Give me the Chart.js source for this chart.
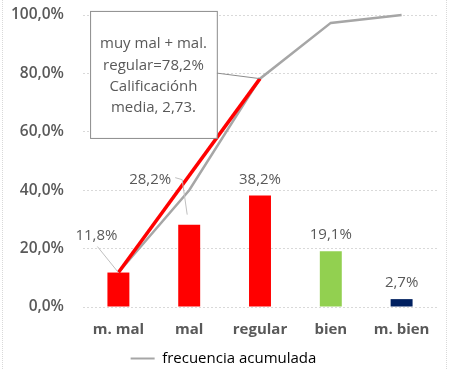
<!DOCTYPE html>
<html lang="es">
<head>
<meta charset="UTF-8">
<script src="https://cdn.jsdelivr.net/npm/chart.js"></script>
<style>
  body { margin: 0; background: #fff; }
  .wrap { position: relative; width: 450px; height: 369px; }
  .wrap::before, .wrap::after {
    content: ''; position: absolute; top: 0; bottom: 0;
    border-left: 1px dotted #d9d9d9;
  }
  .wrap::before { left: 2px; }
  .wrap::after { left: 446px; }
</style>
</head>
<body>
<div class="wrap"><canvas id="chart"></canvas></div>
<script>
const categories = ['m. mal', 'mal', 'regular', 'bien', 'm. bien'];
const porcentajes = [11.8, 28.2, 38.2, 19.1, 2.7];
const acumulada = [11.8, 40.0, 78.2, 97.3, 100.0];
const tramoRojo = [11.8, null, 78.2, null, null];
const barColors = ['#ff0000', '#ff0000', '#ff0000', '#92d050', '#002060'];
const notaLineas = ['muy mal + mal.', 'regular=78,2%', 'Calificaciónh', 'media, 2,73.'];

const FONT = '"Open Sans", sans-serif';
const GRIS = '#595959';
const fmt = v => v.toFixed(1).replace('.', ',') + '%';

// etiquetas de datos + cuadro de nota
const extras = {
  id: 'extras',
  afterDatasetsDraw(chart) {
    const { ctx, scales: { x, y } } = chart;
    ctx.save();
    ctx.font = '15px ' + FONT;
    ctx.fillStyle = GRIS;
    ctx.textAlign = 'center';
    ctx.textBaseline = 'middle';
    ctx.strokeStyle = '#bfbfbf';
    ctx.lineWidth = 1;

    porcentajes.forEach((v, i) => {
      const bx = x.getPixelForValue(i), by = y.getPixelForValue(v);
      let lx = bx, ly = by - 16;
      if (i === 0) {
        lx = bx - 22; ly = by - 37;
        ctx.beginPath();
        ctx.moveTo(lx + 1, ly + 11);
        ctx.lineTo(bx, by);
        ctx.stroke();
      }
      if (i === 1) {
        lx = bx - 39; ly = by - 45;
        ctx.beginPath();
        ctx.moveTo(lx + 25, ly - 2);
        ctx.lineTo(lx + 32, ly);
        ctx.lineTo(lx + 37, ly + 35);
        ctx.stroke();
      }
      ctx.fillText(fmt(v), lx, ly);
    });

    // nota
    const left = x.getPixelForValue(-0.4), right = x.getPixelForValue(1.39);
    const top = y.getPixelForValue(101.4), bottom = y.getPixelForValue(57.9);
    ctx.strokeStyle = '#8c8c8c';
    ctx.beginPath();
    ctx.moveTo(right, y.getPixelForValue(80.1));
    ctx.lineTo(x.getPixelForValue(2), y.getPixelForValue(acumulada[2]));
    ctx.stroke();
    ctx.fillStyle = '#fff';
    ctx.fillRect(left, top, right - left, bottom - top);
    ctx.strokeRect(left + 0.5, top + 0.5, right - left, bottom - top);
    ctx.fillStyle = GRIS;
    const cx = (left + right) / 2, cy = (top + bottom) / 2 + 1.5;
    notaLineas.forEach((t, k) => {
      ctx.fillText(t, cx, cy + (k - 1.5) * 21.3);
    });
    ctx.restore();
  }
};

new Chart(document.getElementById('chart'), {
  type: 'bar',
  data: {
    labels: categories,
    datasets: [
      {
        type: 'line', label: 'tramo', data: tramoRojo,
        borderColor: '#ff0000', borderWidth: 3.5, pointRadius: 0,
        spanGaps: true, order: 1, clip: false
      },
      {
        type: 'line', label: 'frecuencia acumulada', data: acumulada,
        borderColor: '#a6a6a6', backgroundColor: '#a6a6a6', borderWidth: 2.5,
        pointRadius: 0, order: 2, clip: false
      },
      {
        label: 'porcentaje', data: porcentajes, backgroundColor: barColors,
        barPercentage: 0.31, categoryPercentage: 1, order: 3
      }
    ]
  },
  options: {
    responsive: true,
    maintainAspectRatio: false,
    animation: false,
    layout: { padding: { top: 0, right: 13, left: 10, bottom: -7 } },
    plugins: {
      tooltip: { enabled: false },
      legend: {
        position: 'bottom',
        labels: {
          boxWidth: 24, boxHeight: 2, color: GRIS, padding: 7,
          font: { family: FONT, size: 15 },
          generateLabels: () => [{
            text: 'frecuencia acumulada', fillStyle: '#a6a6a6',
            strokeStyle: '#a6a6a6', lineWidth: 0, hidden: false, datasetIndex: 1
          }]
        }
      }
    },
    scales: {
      x: {
        grid: { display: false },
        border: { display: false },
        ticks: { color: GRIS, font: { family: FONT, size: 15, weight: 'bold' }, padding: 5.5 }
      },
      y: {
        min: 0, max: 100,
        afterFit: s => { s.width = 73; s.paddingTop = 15; s.paddingBottom = 9; },
        grid: { color: '#d9d9d9', drawTicks: false },
        border: { display: false, dash: [2, 2] },
        ticks: {
          stepSize: 20, padding: 19, color: GRIS,
          font: { family: FONT, size: 15.5, weight: '600' },
          callback: v => fmt(v)
        }
      }
    }
  },
  plugins: [extras]
});
</script>
</body>
</html>
